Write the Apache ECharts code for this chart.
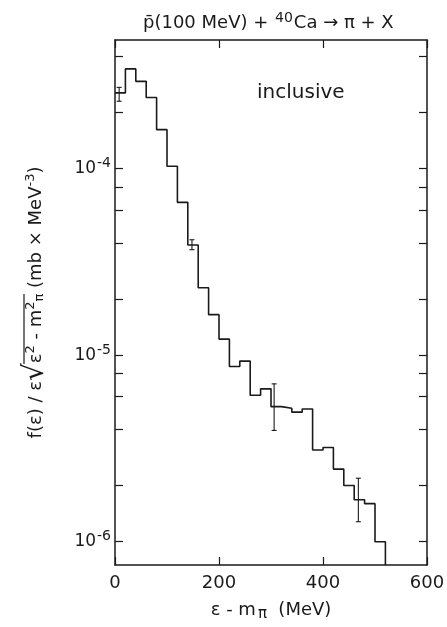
<!DOCTYPE html>
<html>
<head>
<meta charset="utf-8">
<script src="https://cdn.jsdelivr.net/npm/echarts@6/dist/echarts.min.js"></script>
<style>
  html, body { margin: 0; padding: 0; background: #fff; }
  #chart { width: 447px; height: 627px; }
</style>
</head>
<body>
<div id="chart"></div>
<script>
// histogram bins (MeV) and heights (mb x MeV^-3)
const binEdges = [0, 20, 40, 60, 80, 100, 120, 140, 160, 180, 200, 220, 240, 260,
  280, 300, 320, 340, 360, 380, 400, 420, 440, 460, 480, 500, 520];
const binValues = [2.55e-4, 3.43e-4, 2.94e-4, 2.41e-4, 1.62e-4, 1.03e-4, 6.6e-5,
  3.9e-5, 2.3e-5, 1.65e-5, 1.22e-5, 8.7e-6, 9.3e-6, 6.1e-6, 6.6e-6, 5.3e-6,
  5.2e-6, 4.95e-6, 5.15e-6, 3.1e-6, 3.2e-6, 2.45e-6, 2.0e-6, 1.68e-6, 1.6e-6, 1.0e-6];

// error bars
const errX = [8, 148, 306, 468];
const errLow = [2.30e-4, 3.68e-5, 3.95e-6, 1.28e-6];
const errHigh = [2.73e-4, 4.16e-5, 7.02e-6, 2.19e-6];

// axes
const xMin = 0, xMax = 600, xStep = 200;
const yMin = 7.5e-7, yMax = 4.9e-4;
const yLabelValues = [1e-6, 1e-5, 1e-4];
const yTickValues = [1e-6, 2e-6, 4e-6, 6e-6, 8e-6, 1e-5, 2e-5, 4e-5, 6e-5, 8e-5,
  1e-4, 2e-4, 4e-4];

const ink = '#1a1a1a';
const font = 'DejaVu Sans';

function drawChart() {
  let myChart = echarts.init(document.getElementById('chart'));

  // step outline: each bin is a flat segment, joined by verticals
  let stepData = [];
  for (let i = 0; i < binValues.length; i++) {
    stepData.push([binEdges[i], binValues[i]]);
    stepData.push([binEdges[i + 1], binValues[i]]);
  }
  stepData.push([binEdges[binEdges.length - 1], yMin]);

  let errData = errX.map((x, i) => [x, errLow[i], errHigh[i]]);

  let axisLine = { onZero: false, lineStyle: { color: ink, width: 1.5 } };
  let tick = { inside: true, length: 8, lineStyle: { color: ink, width: 1.2 } };

  let option = {
    animation: false,
    backgroundColor: '#fff',
    title: {
      text: '{t|p\u0304(100 MeV) + }{sup|40}{t|Ca \u2192 \u03c0 + X}',
      left: 138,
      top: 6,
      textStyle: {
        rich: {
          t: { fontFamily: font, fontSize: 18, fontWeight: 'normal', color: ink },
          sup: { fontFamily: font, fontSize: 14, fontWeight: 'normal', color: ink, padding: [0, 1, 10, 1] }
        }
      }
    },
    grid: { left: 115, right: 20, top: 40, bottom: 62, outerBoundsMode: 'none' },
    graphic: [
      {
        type: 'text',
        left: 257,
        top: 83,
        style: { text: 'inclusive', fontFamily: font, fontSize: 20, fill: ink }
      },
      {
        // bar of the square root in the y title
        type: 'line',
        shape: { x1: 24, y1: 294, x2: 24, y2: 364 },
        style: { stroke: ink, lineWidth: 1.2 }
      }
    ],
    xAxis: [
      {
        type: 'value',
        min: xMin,
        max: xMax,
        interval: xStep,
        position: 'bottom',
        axisLine: axisLine,
        axisTick: tick,
        splitLine: { show: false },
        axisLabel: { fontFamily: font, fontSize: 18, color: ink, margin: 9 },
        name: '{m|\u03b5 - m}{sub|\u03c0}{m|  (MeV)}',
        nameLocation: 'middle',
        nameGap: 34,
        nameTextStyle: {
          rich: {
            m: { fontFamily: font, fontSize: 18, color: ink },
            sub: { fontFamily: font, fontSize: 15, color: ink, padding: [8, 0, 0, 2] }
          }
        }
      },
      {
        type: 'value',
        min: xMin,
        max: xMax,
        interval: xStep,
        position: 'top',
        axisLine: axisLine,
        axisTick: tick,
        splitLine: { show: false },
        axisLabel: { show: false }
      }
    ],
    yAxis: [
      {
        type: 'log',
        logBase: 10,
        min: yMin,
        max: yMax,
        position: 'left',
        axisLine: axisLine,
        axisTick: Object.assign({ customValues: yTickValues }, tick),
        splitLine: { show: false },
        minorTick: { show: false },
        axisLabel: {
          customValues: yLabelValues,
          margin: 4,
          formatter: function (v) {
            let e = Math.round(Math.log10(v));
            return '{b|10}{s|-' + (-e) + '}';
          },
          rich: {
            b: { fontFamily: font, fontSize: 17, color: ink },
            s: { fontFamily: font, fontSize: 14, color: ink, padding: [0, 0, 10, 1] }
          }
        },
        name: '{m|f(\u03b5) / \u03b5}{rt|\u221a}{m|\u03b5}{sup|2}{m| - m}{sup|2}{sub|\u03c0}{m| (mb \u00d7 MeV}{sup|-3}{m|)}',
        nameLocation: 'middle',
        nameRotate: 90,
        nameGap: 65,
        nameTextStyle: {
          rich: {
            m: { fontFamily: font, fontSize: 18, color: ink },
            rt: { fontFamily: font, fontSize: 28, color: ink },
            sup: { fontFamily: font, fontSize: 13, color: ink, padding: [0, 0, 10, 0] },
            sub: { fontFamily: font, fontSize: 13, color: ink, padding: [8, 0, 0, 0] }
          }
        }
      },
      {
        type: 'log',
        logBase: 10,
        min: yMin,
        max: yMax,
        position: 'right',
        axisLine: axisLine,
        axisTick: Object.assign({ customValues: yTickValues }, tick),
        splitLine: { show: false },
        minorTick: { show: false },
        axisLabel: { show: false }
      }
    ],
    series: [
      {
        name: 'inclusive',
        type: 'line',
        data: stepData,
        showSymbol: false,
        lineStyle: { color: ink, width: 1.6 },
        clip: true
      },
      {
        name: 'errors',
        type: 'custom',
        data: errData,
        encode: { x: 0, y: [1, 2] },
        renderItem: function (params, api) {
          let x = api.value(0);
          let lo = api.coord([x, api.value(1)]);
          let hi = api.coord([x, api.value(2)]);
          let w = 2.5;
          let st = { stroke: ink, lineWidth: 1.1 };
          return {
            type: 'group',
            children: [
              { type: 'line', shape: { x1: lo[0], y1: lo[1], x2: hi[0], y2: hi[1] }, style: st },
              { type: 'line', shape: { x1: lo[0] - w, y1: lo[1], x2: lo[0] + w, y2: lo[1] }, style: st },
              { type: 'line', shape: { x1: hi[0] - w, y1: hi[1], x2: hi[0] + w, y2: hi[1] }, style: st }
            ]
          };
        }
      }
    ]
  };
  option && myChart.setOption(option);
  return myChart;
}

drawChart();
</script>
</body>
</html>
